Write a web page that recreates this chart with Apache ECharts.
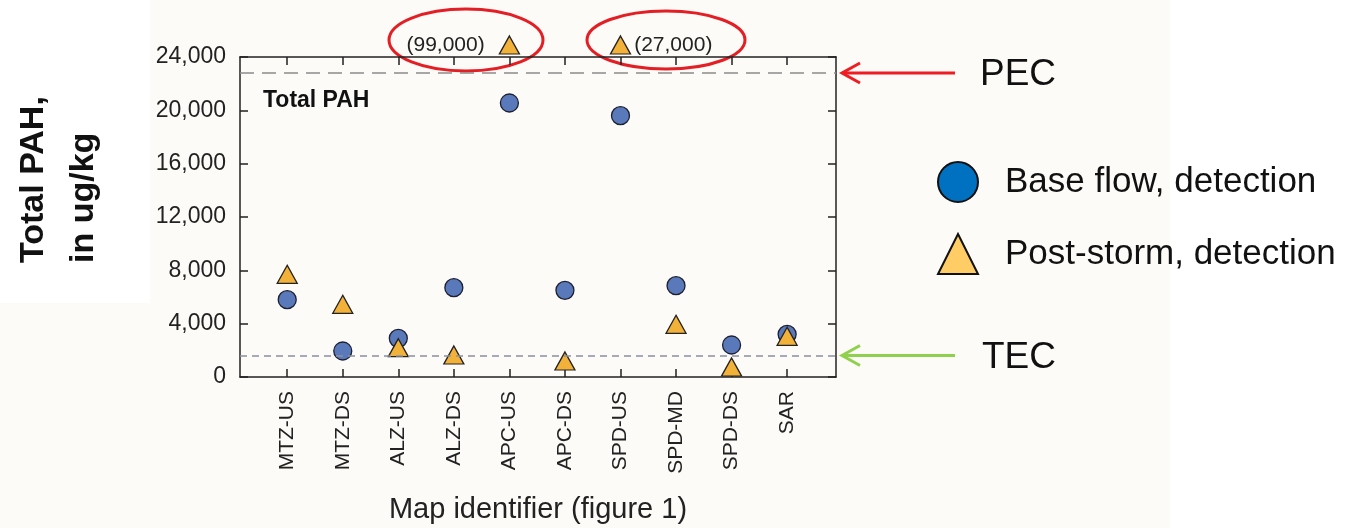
<!DOCTYPE html>
<html>
<head>
<meta charset="utf-8">
<script src="https://cdn.jsdelivr.net/npm/echarts@6/dist/echarts.min.js"></script>
<style>
  html, body { margin: 0; padding: 0; background: #ffffff; }
  #main { width: 1348px; height: 528px; }
</style>
</head>
<body>
<div id="main"></div>
<script>
// sites along the x axis
var categories = ['MTZ-US', 'MTZ-DS', 'ALZ-US', 'ALZ-DS', 'APC-US', 'APC-DS', 'SPD-US', 'SPD-MD', 'SPD-DS', 'SAR'];
// total PAH, ug/kg
var baseFlow = [5800, 1950, 2900, 6700, 20550, 6500, 19600, 6850, 2400, 3200];
var postStorm = [7700, 5450, 2200, 1650, 99000, 1200, 27000, 3950, 750, 3050];
var yTicks = [0, 4000, 8000, 12000, 16000, 20000, 24000];
var PEC = 22800;
var TEC = 1610;

var sans = '"Liberation Sans", Arial, sans-serif';
var yMax = yTicks[yTicks.length - 1];
var offScale = 24900; // off-scale points are drawn just above the frame
var offLabelPos = { 'APC-US': 'left', 'SPD-US': 'right' };

function fmt(v) {
    return String(v).replace(/\B(?=(\d{3})+(?!\d))/g, ',');
}

var tickIdx = categories.map(function (c, i) { return i; });

var stormData = postStorm.map(function (v, i) {
    if (v > yMax) {
        return {
            value: [i, offScale],
            label: {
                show: true,
                position: offLabelPos[categories[i]] || 'right',
                distance: offLabelPos[categories[i]] === 'left' ? 14 : 3,
                formatter: '(' + fmt(v) + ')',
                color: '#222',
                fontSize: 21,
                fontFamily: sans
            }
        };
    }
    return [i, v];
});

var axisLine = { show: true, onZero: false, lineStyle: { color: '#222', width: 1.5 } };
var tickStyle = { color: '#222', width: 1.5 };

var option = {
    animation: false,
    backgroundColor: 'transparent',
    grid: { left: 240, top: 57, width: 596, height: 320, show: false, outerBoundsMode: 'none', containLabel: false },
    title: {
        text: 'Total PAH',
        left: 258,
        top: 84,
        textStyle: { fontFamily: sans, fontWeight: 'bold', fontSize: 23, color: '#111' }
    },
    legend: {
        orient: 'vertical',
        left: 937,
        top: 161,
        itemWidth: 40,
        itemHeight: 40,
        itemGap: 30,
        padding: 0,
        textStyle: { fontFamily: sans, fontSize: 35, color: '#111', padding: [0, 0, 0, 22] },
        data: [
            { name: 'Base flow, detection', icon: 'circle',
              itemStyle: { color: '#0070c0', borderColor: '#111', borderWidth: 2 } },
            { name: 'Post-storm, detection', icon: 'triangle',
              itemStyle: { color: '#ffcc66', borderColor: '#111', borderWidth: 2 } }
        ]
    },
    xAxis: [
        {
            type: 'value',
            position: 'bottom',
            min: -0.85,
            max: 9.88,
            name: 'Map identifier (figure 1)',
            nameLocation: 'middle',
            nameGap: 118,
            nameTextStyle: { fontFamily: sans, fontSize: 29, color: '#222' },
            axisLine: axisLine,
            axisTick: { show: true, inside: true, length: 8, customValues: tickIdx, lineStyle: tickStyle },
            axisLabel: {
                show: true,
                rotate: 90,
                margin: 14,
                customValues: tickIdx,
                formatter: function (v) { return categories[Math.round(v)]; },
                fontFamily: sans,
                fontSize: 21,
                color: '#222'
            },
            splitLine: { show: false }
        },
        {
            type: 'value',
            position: 'top',
            min: -0.85,
            max: 9.88,
            axisLine: axisLine,
            axisTick: { show: true, inside: true, length: 8, customValues: tickIdx, lineStyle: tickStyle },
            axisLabel: { show: false },
            splitLine: { show: false }
        }
    ],
    yAxis: [
        {
            type: 'value',
            position: 'left',
            min: 0,
            max: yMax,
            interval: yTicks[1] - yTicks[0],
            axisLine: axisLine,
            axisTick: { show: true, inside: true, length: 8, lineStyle: tickStyle },
            axisLabel: {
                margin: 14,
                formatter: function (v) { return fmt(v); },
                fontFamily: sans,
                fontSize: 23,
                color: '#222'
            },
            splitLine: { show: false }
        },
        {
            type: 'value',
            position: 'right',
            min: 0,
            max: yMax,
            interval: yTicks[1] - yTicks[0],
            axisLine: axisLine,
            axisTick: { show: true, inside: true, length: 8, lineStyle: tickStyle },
            axisLabel: { show: false },
            splitLine: { show: false }
        }
    ],
    series: [
        {
            name: 'Base flow, detection',
            type: 'scatter',
            symbol: 'circle',
            symbolSize: 18,
            itemStyle: { color: '#5a79bb', borderColor: '#1c2030', borderWidth: 1.3, opacity: 1 },
            data: baseFlow.map(function (v, i) { return [i, v]; }),
            markLine: {
                silent: true,
                symbol: 'none',
                label: { show: false },
                data: [
                    { yAxis: PEC, lineStyle: { color: '#8c8c8c', type: [14, 8], width: 1.6 } },
                    { yAxis: TEC, lineStyle: { color: '#8a90a0', type: [7, 5], width: 1.6 } }
                ]
            }
        },
        {
            name: 'Post-storm, detection',
            type: 'scatter',
            symbol: 'triangle',
            symbolSize: [20, 18],
            clip: false,
            itemStyle: { color: '#f2b23a', borderColor: '#222', borderWidth: 1.3, opacity: 1 },
            data: stormData
        }
    ]
};

var myChart = echarts.init(document.getElementById('main'));
myChart.setOption(option);

// annotations: background panel, arrows to PEC/TEC, red ellipses, y title
var pecY = myChart.convertToPixel({ yAxisIndex: 0 }, PEC);
var tecY = myChart.convertToPixel({ yAxisIndex: 0 }, TEC);

function arrow(y, color) {
    return [
        { type: 'line', shape: { x1: 842, y1: y, x2: 955, y2: y }, style: { stroke: color, lineWidth: 3 } },
        { type: 'polyline', shape: { points: [[860, y - 10], [842, y], [860, y + 10]] },
          style: { stroke: color, lineWidth: 3, fill: null } }
    ];
}

function label(x, y, text) {
    return { type: 'text', x: x, y: y, style: { text: text, font: '37px ' + sans, fill: '#111',
        align: 'left', verticalAlign: 'middle', textAlign: 'left', textVerticalAlign: 'middle' } };
}

myChart.setOption({
    graphic: [
        { type: 'rect', z: -10, shape: { x: 0, y: 0, width: 1170, height: 528 }, style: { fill: '#fdfbf7' } },
        { type: 'rect', z: -9, shape: { x: 0, y: 0, width: 150, height: 303 }, style: { fill: '#ffffff' } },
        {
            type: 'text', x: 59, y: 263, rotation: Math.PI / 2,
            style: {
                text: 'Total PAH,\nin ug/kg', font: 'bold 34px ' + sans,
                fill: '#111', align: 'left', verticalAlign: 'middle',
                textAlign: 'left', textVerticalAlign: 'middle', lineHeight: 50
            }
        },
        { type: 'ellipse', shape: { cx: 466, cy: 40, rx: 77, ry: 31 }, style: { fill: 'transparent', stroke: '#e31e24', lineWidth: 3 } },
        { type: 'ellipse', shape: { cx: 666, cy: 40, rx: 79, ry: 29 }, style: { fill: 'transparent', stroke: '#e31e24', lineWidth: 3 } }
    ].concat(arrow(pecY, '#ee1d23'), arrow(tecY, '#8fd14f'), [
        label(980, pecY + 2, 'PEC'),
        label(982, tecY + 2, 'TEC')
    ])
});
</script>
</body>
</html>
